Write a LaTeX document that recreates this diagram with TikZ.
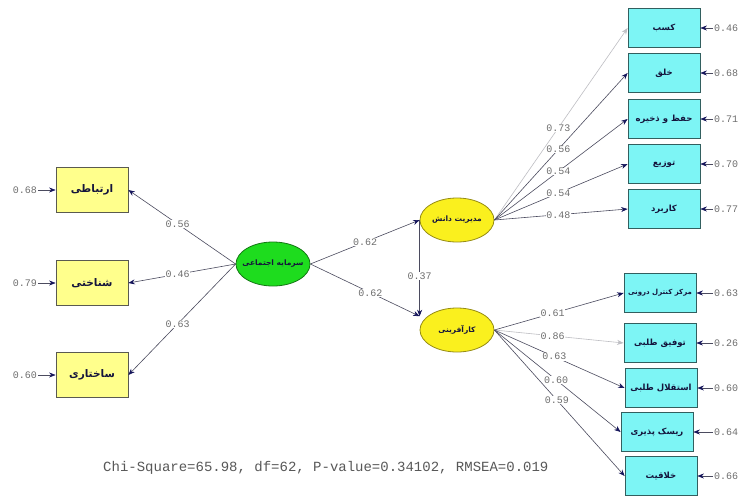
\documentclass[tikz,border=0pt]{standalone}
\usepackage{fontspec}
\usetikzlibrary{arrows.meta,shapes.geometric}
\TeXXeTstate=1
\newfontfamily\farsifont[Script=Arabic]{DejaVu Sans}
\newfontfamily\numfont{Liberation Mono}
\newcommand\pers[1]{\farsifont\beginR #1\endR}
\definecolor{yboxc}{RGB}{255,255,140}
\definecolor{cboxc}{RGB}{125,245,245}
\definecolor{cbord}{RGB}{50,95,95}
\definecolor{ybord}{RGB}{90,90,80}
\definecolor{grn}{RGB}{30,220,30}
\definecolor{grnb}{RGB}{20,120,20}
\definecolor{yel}{RGB}{250,240,30}
\definecolor{yelb}{RGB}{150,140,20}
\definecolor{linec}{RGB}{75,75,95}
\definecolor{headc}{RGB}{20,20,90}
\definecolor{lightl}{RGB}{190,190,195}
\definecolor{numc}{RGB}{110,110,110}
\definecolor{txtc}{RGB}{20,20,60}
\begin{document}
\begin{tikzpicture}[x=1pt,y=-1pt,
  yb/.style={draw=ybord, line width=0.8pt, fill=yboxc, minimum width=72pt, minimum height=45pt, inner sep=0pt, text=txtc, font=\farsifont\bfseries\fontsize{10.5}{12}\selectfont},
  cb/.style={draw=cbord, line width=0.8pt, fill=cboxc, minimum width=72pt, minimum height=39pt, inner sep=0pt, text=txtc, font=\farsifont\bfseries\fontsize{8.5}{10}\selectfont},
  lv/.style={ellipse, minimum width=74pt, minimum height=44pt, inner xsep=-10pt, inner ysep=0pt, line width=0.8pt, text=txtc, font=\farsifont\bfseries\fontsize{7.5}{9}\selectfont},
  num/.style={font=\numfont\fontsize{10}{11}\selectfont, text=numc, inner sep=1pt},
  lab/.style={num, fill=white, inner sep=0.5pt},
  arr/.style={draw=linec, line width=0.6pt, -{Stealth[length=6.5pt,width=5pt,color=headc]}},
  larr/.style={draw=lightl, line width=0.6pt, -{Stealth[length=6.5pt,width=5pt,color=lightl]}}
]
\useasboundingbox (0,0) rectangle (745,496);
\fill[white] (0,0) rectangle (745,496);

% left indicators
\node[yb] (a1) at (92,190) {\pers{ارتباطی}};
\node[yb] (a2) at (92,283) {\pers{شناختی}};
\node[yb] (a3) at (92,375) {\pers{ساختاری}};
\node[num, anchor=east] (ea1) at (38,190) {0.68};
\node[num, anchor=east] (ea2) at (38,283) {0.79};
\node[num, anchor=east] (ea3) at (38,375) {0.60};
\draw[arr] (ea1) -- (a1);
\draw[arr] (ea2) -- (a2);
\draw[arr] (ea3) -- (a3);

% latent variables
\node[lv, draw=grnb, fill=grn] (sa) at (273,264) {\pers{سرمایه اجتماعی}};
\node[lv, draw=yelb, fill=yel] (km) at (457,220) {\pers{مدیریت دانش}};
\node[lv, draw=yelb, fill=yel] (en) at (457,330) {\pers{کارآفرینی}};
\coordinate (enj) at (km.west |- en.155);

\draw[arr] (sa.west) -- node[lab, pos=0.54] {0.56} (a1.east);
\draw[arr] (sa.west) -- node[lab, pos=0.54] {0.46} (a2.east);
\draw[arr] (sa.west) -- node[lab, pos=0.54] {0.63} (a3.east);
\draw[arr] (sa.east) -- node[lab, pos=0.5] {0.62} (km.west);
\draw[arr] (sa.east) -- node[lab, pos=0.55] {0.62} (enj);
\draw[arr] (km.west) -- node[lab, pos=0.58] {0.37} (enj);

% knowledge management indicators
\node[cb] (k1) at (664,28) {\pers{کسب}};
\node[cb] (k2) at (664,73) {\pers{خلق}};
\node[cb] (k3) at (664,119) {\pers{حفظ و ذخیره}};
\node[cb] (k4) at (664,164) {\pers{توزیع}};
\node[cb] (k5) at (664,209) {\pers{کاربرد}};
\node[num, anchor=west] (ek1) at (713,28) {0.46};
\node[num, anchor=west] (ek2) at (713,73) {0.68};
\node[num, anchor=west] (ek3) at (713,119) {0.71};
\node[num, anchor=west] (ek4) at (713,164) {0.70};
\node[num, anchor=west] (ek5) at (713,209) {0.77};
\foreach \i in {1,...,5} {\draw[arr] (ek\i) -- (k\i);}
\draw[larr] (km.east) -- node[lab, pos=0.48] {0.73} (k1.west);
\draw[arr] (km.east) -- node[lab, pos=0.48] {0.56} (k2.west);
\draw[arr] (km.east) -- node[lab, pos=0.48] {0.54} (k3.west);
\draw[arr] (km.east) -- node[lab, pos=0.48] {0.54} (k4.west);
\draw[arr] (km.east) -- node[lab, pos=0.48] {0.48} (k5.west);

% entrepreneurship indicators
\node[cb, font=\farsifont\bfseries\fontsize{7}{9}\selectfont] (b1) at (660,293) {\pers{مرکز کنترل درونی}};
\node[cb] (b2) at (660,343) {\pers{توفیق طلبی}};
\node[cb] (b3) at (661,388) {\pers{استقلال طلبی}};
\node[cb] (b4) at (657,432) {\pers{ریسک پذیری}};
\node[cb] (b5) at (661,476) {\pers{خلاقیت}};
\node[num, anchor=west] (eb1) at (713,293) {0.63};
\node[num, anchor=west] (eb2) at (713,343) {0.26};
\node[num, anchor=west] (eb3) at (713,388) {0.60};
\node[num, anchor=west] (eb4) at (713,432) {0.64};
\node[num, anchor=west] (eb5) at (713,476) {0.66};
\foreach \i in {1,...,5} {\draw[arr] (eb\i) -- (b\i);}
\draw[arr] (en.east) -- node[lab, pos=0.45] {0.61} (b1.west);
\draw[larr] (en.east) -- node[lab, pos=0.45] {0.86} (b2.west);
\draw[arr] (en.east) -- node[lab, pos=0.46] {0.63} (b3.west);
\draw[arr] (en.east) -- node[lab, pos=0.49] {0.60} (b4.west);
\draw[arr] (en.east) -- node[lab, pos=0.48] {0.59} (b5.west);

% fit statistics
\node[font=\numfont\fontsize{14}{16}\selectfont, text=numc!80!black, anchor=west, inner sep=0pt] (fit) at (103,468) {Chi-Square=65.98, df=62, P-value=0.34102, RMSEA=0.019};
\end{tikzpicture}
\end{document}
